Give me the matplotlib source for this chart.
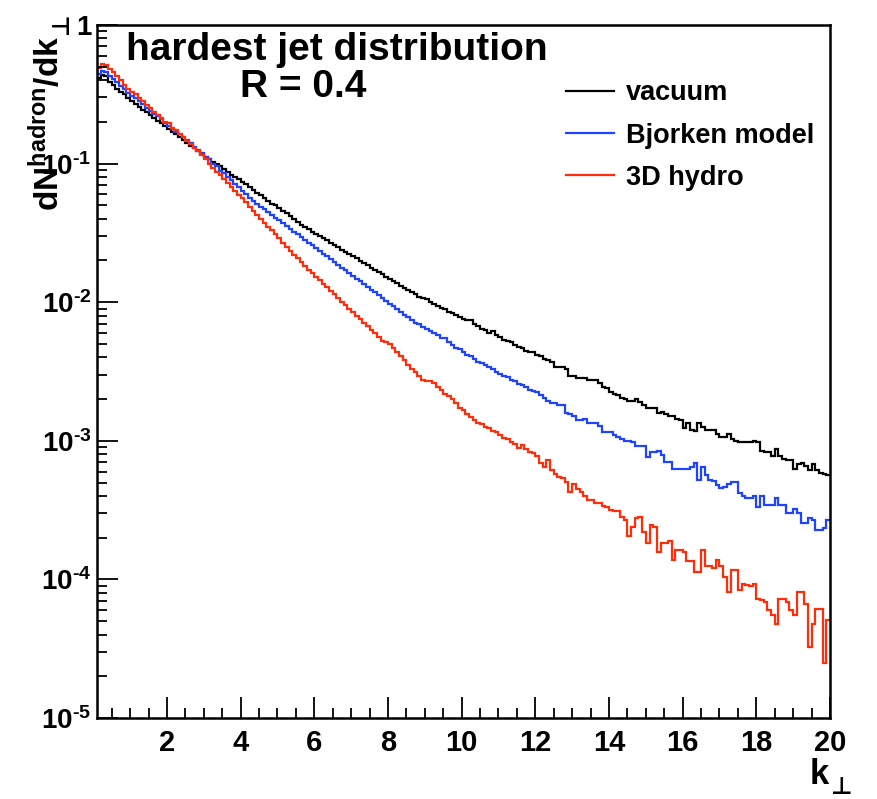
import numpy as np
import matplotlib
matplotlib.use('Agg')
import matplotlib.pyplot as plt
from matplotlib.ticker import MultipleLocator, LogLocator, NullFormatter

# ROOT-like bold sans look
plt.rcParams['font.family'] = ['Liberation Sans', 'DejaVu Sans']
plt.rcParams['font.weight'] = 'bold'
plt.rcParams['mathtext.fontset'] = 'custom'
plt.rcParams['mathtext.rm'] = 'Liberation Sans:bold'
plt.rcParams['mathtext.bf'] = 'Liberation Sans:bold'
plt.rcParams['mathtext.it'] = 'Liberation Sans:bold'
plt.rcParams['mathtext.default'] = 'bf'

# histogram bins: 0.1 wide from 0.1 to 20
k_edges = np.round(np.arange(0.1, 20.05, 0.1), 2)

# log10 of dN/dk per bin (rows = one unit of k)
vacuum_log10 = [
    -0.38, -0.36, -0.37, -0.41, -0.43, -0.46, -0.48, -0.50, -0.53,
    -0.55, -0.57, -0.59, -0.61, -0.63, -0.65, -0.67, -0.69, -0.71, -0.73,
    -0.75, -0.77, -0.79, -0.81, -0.83, -0.85, -0.87, -0.89, -0.91, -0.93,
    -0.95, -0.97, -0.99, -1.00, -1.02, -1.04, -1.06, -1.08, -1.10, -1.11,
    -1.13, -1.15, -1.17, -1.19, -1.21, -1.23, -1.25, -1.27, -1.29, -1.30,
    -1.32, -1.34, -1.36, -1.38, -1.40, -1.42, -1.44, -1.46, -1.47, -1.49,
    -1.51, -1.52, -1.54, -1.55, -1.57, -1.59, -1.60, -1.62, -1.64, -1.65,
    -1.67, -1.68, -1.70, -1.72, -1.73, -1.75, -1.77, -1.78, -1.80, -1.82,
    -1.83, -1.85, -1.86, -1.88, -1.90, -1.91, -1.93, -1.94, -1.96, -1.97,
    -1.98, -2.00, -2.01, -2.03, -2.04, -2.05, -2.07, -2.08, -2.09, -2.11,
    -2.12, -2.13, -2.13, -2.16, -2.17, -2.19, -2.20, -2.22, -2.21, -2.24,
    -2.25, -2.27, -2.28, -2.29, -2.31, -2.32, -2.33, -2.35, -2.36, -2.36,
    -2.38, -2.39, -2.41, -2.42, -2.43, -2.47, -2.47, -2.47, -2.48, -2.53,
    -2.53, -2.55, -2.55, -2.55, -2.56, -2.56, -2.56, -2.58, -2.61, -2.62,
    -2.65, -2.66, -2.67, -2.69, -2.70, -2.71, -2.71, -2.70, -2.72, -2.74,
    -2.76, -2.76, -2.76, -2.80, -2.79, -2.81, -2.82, -2.82, -2.84, -2.85,
    -2.91, -2.87, -2.92, -2.93, -2.87, -2.90, -2.92, -2.92, -2.92, -2.95,
    -2.97, -2.97, -2.95, -2.99, -3.00, -3.01, -3.01, -3.01, -3.01, -3.00,
    -3.01, -3.07, -3.08, -3.08, -3.11, -3.06, -3.11, -3.13, -3.14, -3.14,
    -3.20, -3.17, -3.16, -3.18, -3.21, -3.17, -3.21, -3.23, -3.24, -3.25,
]

bjorken_log10 = [
    -0.35, -0.33, -0.34, -0.37, -0.39, -0.41, -0.44, -0.46, -0.49,
    -0.51, -0.53, -0.55, -0.57, -0.60, -0.62, -0.64, -0.66, -0.68, -0.71,
    -0.73, -0.75, -0.77, -0.79, -0.81, -0.83, -0.85, -0.88, -0.90, -0.92,
    -0.95, -0.97, -1.00, -1.02, -1.05, -1.07, -1.10, -1.12, -1.15, -1.17,
    -1.20, -1.22, -1.25, -1.27, -1.29, -1.31, -1.33, -1.35, -1.37, -1.39,
    -1.41, -1.43, -1.45, -1.47, -1.49, -1.51, -1.53, -1.55, -1.57, -1.59,
    -1.61, -1.63, -1.65, -1.67, -1.69, -1.71, -1.73, -1.75, -1.77, -1.79,
    -1.81, -1.83, -1.85, -1.87, -1.89, -1.91, -1.93, -1.95, -1.97, -1.99,
    -2.01, -2.03, -2.05, -2.07, -2.09, -2.11, -2.13, -2.15, -2.16, -2.18,
    -2.19, -2.21, -2.22, -2.24, -2.26, -2.26, -2.29, -2.31, -2.33, -2.34,
    -2.36, -2.38, -2.39, -2.41, -2.43, -2.44, -2.45, -2.47, -2.48, -2.50,
    -2.52, -2.53, -2.54, -2.56, -2.57, -2.59, -2.60, -2.61, -2.63, -2.64,
    -2.65, -2.67, -2.69, -2.71, -2.73, -2.73, -2.74, -2.74, -2.80, -2.81,
    -2.82, -2.85, -2.85, -2.84, -2.87, -2.87, -2.87, -2.89, -2.94, -2.94,
    -2.94, -2.96, -2.97, -2.99, -3.00, -3.00, -3.01, -3.04, -3.04, -3.04,
    -3.12, -3.08, -3.08, -3.07, -3.10, -3.15, -3.15, -3.20, -3.20, -3.20,
    -3.20, -3.20, -3.19, -3.16, -3.28, -3.19, -3.25, -3.28, -3.29, -3.32,
    -3.34, -3.33, -3.31, -3.30, -3.30, -3.38, -3.40, -3.41, -3.41, -3.40,
    -3.48, -3.40, -3.46, -3.46, -3.46, -3.41, -3.46, -3.46, -3.52, -3.52,
    -3.49, -3.52, -3.59, -3.59, -3.56, -3.57, -3.64, -3.64, -3.63, -3.57,
]

hydro3d_log10 = [
    -0.31, -0.28, -0.29, -0.32, -0.34, -0.37, -0.40, -0.43, -0.46,
    -0.48, -0.50, -0.53, -0.55, -0.58, -0.60, -0.63, -0.65, -0.67, -0.70,
    -0.71, -0.74, -0.76, -0.79, -0.81, -0.84, -0.86, -0.89, -0.91, -0.94,
    -0.97, -1.00, -1.03, -1.06, -1.08, -1.11, -1.14, -1.17, -1.20, -1.23,
    -1.25, -1.28, -1.31, -1.34, -1.37, -1.40, -1.43, -1.46, -1.48, -1.51,
    -1.54, -1.57, -1.60, -1.63, -1.66, -1.68, -1.71, -1.74, -1.77, -1.79,
    -1.82, -1.84, -1.87, -1.89, -1.92, -1.94, -1.97, -2.00, -2.02, -2.05,
    -2.07, -2.10, -2.12, -2.15, -2.17, -2.20, -2.22, -2.25, -2.28, -2.29,
    -2.30, -2.33, -2.36, -2.39, -2.42, -2.45, -2.48, -2.50, -2.53, -2.56,
    -2.57, -2.57, -2.58, -2.61, -2.63, -2.66, -2.68, -2.70, -2.73, -2.76,
    -2.78, -2.81, -2.83, -2.85, -2.87, -2.88, -2.90, -2.91, -2.93, -2.94,
    -2.96, -2.98, -2.99, -3.01, -3.02, -3.05, -3.03, -3.06, -3.08, -3.09,
    -3.11, -3.16, -3.19, -3.14, -3.21, -3.24, -3.26, -3.27, -3.30, -3.37,
    -3.31, -3.35, -3.37, -3.40, -3.43, -3.43, -3.45, -3.45, -3.47, -3.48,
    -3.50, -3.51, -3.51, -3.55, -3.57, -3.69, -3.62, -3.56, -3.55, -3.66,
    -3.74, -3.61, -3.62, -3.80, -3.74, -3.74, -3.72, -3.86, -3.79, -3.79,
    -3.80, -3.87, -3.87, -3.95, -3.95, -3.79, -3.90, -3.90, -3.92, -3.86,
    -3.90, -3.98, -4.09, -3.93, -3.93, -4.08, -4.03, -4.04, -4.05, -4.03,
    -4.14, -4.15, -4.16, -4.22, -4.26, -4.32, -4.14, -4.14, -4.16, -4.22,
    -4.26, -4.09, -4.09, -4.18, -4.49, -4.32, -4.21, -4.21, -4.60, -4.29,
]

series_labels = ['vacuum', 'Bjorken model', '3D hydro']
series_colors = ['black', '#1f43ff', '#ff2d0a']

fig = plt.figure(figsize=(8.78, 7.99), dpi=100)
ax = fig.add_axes([97 / 878, 1 - 718 / 799, 733 / 878, 693 / 799])

for vals, lab, col in zip([vacuum_log10, bjorken_log10, hydro3d_log10],
                          series_labels, series_colors):
    ax.stairs(10.0 ** np.array(vals), k_edges, baseline=None,
              color=col, linewidth=1.6, label=lab)

ax.set_yscale('log')
ax.set_xlim(0.1, 20)
ax.set_ylim(1e-5, 1)

# x axis ticks
ax.xaxis.set_minor_locator(MultipleLocator(0.5))
ax.set_xticks(np.arange(2, 21, 2))
ax.set_xticklabels([str(v) for v in range(2, 21, 2)])

# y axis ticks (short hyphen in the exponent, like ROOT)
ax.set_yticks([1e-5, 1e-4, 1e-3, 1e-2, 1e-1, 1])
ax.set_yticklabels([r'$10^{\text{-}5}$', r'$10^{\text{-}4}$', r'$10^{\text{-}3}$',
                    r'$10^{\text{-}2}$', r'$10^{\text{-}1}$', '1'])
ax.yaxis.set_minor_locator(LogLocator(base=10, subs=np.arange(2, 10)))
ax.yaxis.set_minor_formatter(NullFormatter())

ax.tick_params(which='both', direction='in', top=False, right=False, width=1.3)
ax.tick_params(which='major', length=15)
ax.tick_params(which='minor', length=7.5)
ax.tick_params(axis='x', pad=8, labelsize=21)
ax.tick_params(axis='y', pad=4, labelsize=20)
for sp in ax.spines.values():
    sp.set_linewidth(1.8)

# title text inside the frame
ax.text(0.327, 0.9495, 'hardest jet distribution', transform=ax.transAxes,
        ha='center', va='baseline', fontsize=28)
ax.text(0.281, 0.896, 'R = 0.4', transform=ax.transAxes,
        ha='center', va='baseline', fontsize=28)

# axis titles, ROOT style (at the axis ends); the perp sign is plain text
# so that it falls back to DejaVu Sans
fig.text(47 / 878, 1 - 36 / 799, r'$dN^{hadron}/dk$', rotation=90,
         ha='center', va='top', fontsize=24)
fig.text(62 / 878, 1 - 12 / 799, '\u22a5', rotation=90,
         ha='center', va='top', fontsize=17)
fig.text(829 / 878, 8 / 799, 'k', ha='right', va='bottom', fontsize=25)
fig.text(831 / 878, 0, '\u22a5', ha='left', va='bottom', fontsize=17)

leg = ax.legend(loc='upper left', bbox_to_anchor=(0.64, 0.92), frameon=False,
                fontsize=19.5, handlelength=1.75, handletextpad=0.45,
                labelspacing=0.6, borderpad=0, borderaxespad=0)

fig.savefig('out.png', dpi=100)
